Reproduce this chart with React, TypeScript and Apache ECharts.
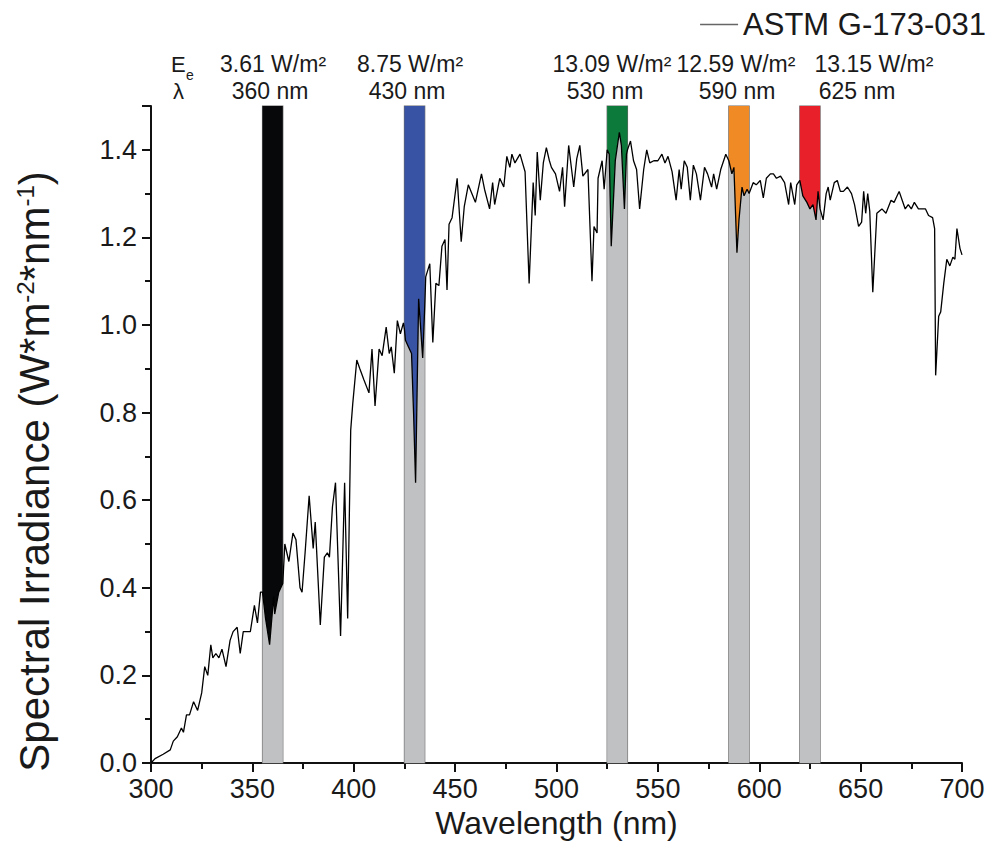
import React, { useEffect, useRef } from "react";
import * as echarts from "echarts";

// ---- Data ----
const wavelengths: number[] = [
  300, 302, 306, 309.5, 311, 313, 315, 316, 317.5, 319, 321, 323, 325, 326.5, 328, 329.5, 330.5, 332, 333.5, 335,
  337, 339, 340.5, 342.5, 344, 345.5, 347.5, 349, 351, 352.5, 354, 355, 356.5, 358.5, 360.5, 361, 363, 365, 366, 368,
  370, 371.5, 373.5, 374.5, 376, 378, 380, 381, 383.5, 385.5, 387, 388, 389.5, 391, 393.5, 395.5, 397, 398.5, 399.5, 401.5,
  403, 405, 407.5, 409, 410.5, 412.5, 414, 416, 417.5, 418.5, 420, 421.5, 423, 424.5, 425, 425.5, 427, 428.5, 429.5, 430.5,
  432, 434, 435, 435.5, 437.5, 439, 440.5, 442, 443.5, 445, 446, 447, 448.5, 451, 453, 454.5, 456.5, 460, 463, 464.5,
  467, 468.5, 469.5, 472, 474, 475.5, 477, 478, 479.5, 482, 484.5, 486.5, 488.5, 489.5, 490.5, 492, 493.5, 495, 496.5, 497.5,
  499.5, 501.5, 503, 504, 506, 508.5, 510, 511.5, 513, 515.5, 517.5, 518.5, 520, 520.5, 522.5, 523.5, 525, 526, 527, 529,
  531, 532, 533.5, 534.5, 535, 536.5, 538, 539.5, 541, 543, 544.5, 546, 548, 550, 552, 553.5, 555, 557, 559, 560.5,
  561.5, 563, 564.5, 566, 567.5, 569, 571, 573, 574.5, 576.5, 577.5, 579, 581, 583.5, 585, 586.5, 587.5, 589, 590, 591.5,
  592.5, 594, 595, 597, 598.5, 600.5, 602, 603.5, 605.5, 607, 608.5, 610.5, 612.5, 614.5, 615.5, 617.5, 618.5, 620, 621.5, 623.5,
  625, 626.5, 628, 629, 630, 631.5, 633, 634, 635, 637, 638.5, 640, 641.5, 643.5, 645.5, 647, 649, 650.5, 651.5, 652.5,
  653.5, 654.5, 656, 658, 660.5, 662.5, 665, 666.5, 668, 669, 670.5, 672, 673.5, 675, 676.5, 678.5, 680, 682, 683.5, 685.5,
  686.5, 687, 688.5, 689.5, 691, 692.5, 694, 695.5, 696.5, 697.5, 699, 700,
];
const irradiance: number[] = [
  0.0, 0.01, 0.02, 0.03, 0.05, 0.06, 0.08, 0.07, 0.11, 0.11, 0.14, 0.12, 0.16, 0.22, 0.2, 0.27, 0.24, 0.25, 0.24, 0.26,
  0.22, 0.28, 0.3, 0.31, 0.25, 0.3, 0.3, 0.3, 0.36, 0.32, 0.39, 0.39, 0.33, 0.27, 0.38, 0.34, 0.39, 0.41, 0.5, 0.46,
  0.525, 0.51, 0.4, 0.39, 0.48, 0.61, 0.49, 0.55, 0.315, 0.47, 0.48, 0.47, 0.585, 0.64, 0.29, 0.64, 0.33, 0.76, 0.82, 0.92,
  0.9, 0.875, 0.845, 0.945, 0.815, 0.945, 0.93, 0.995, 0.935, 0.95, 0.89, 1.01, 0.98, 1.005, 0.99, 0.965, 0.95, 0.935, 0.8, 0.64,
  1.06, 0.925, 1.04, 1.11, 1.14, 0.96, 1.095, 1.09, 1.18, 1.195, 1.08, 1.23, 1.245, 1.335, 1.19, 1.27, 1.32, 1.28, 1.345, 1.31,
  1.265, 1.325, 1.275, 1.335, 1.315, 1.385, 1.36, 1.39, 1.37, 1.39, 1.35, 1.095, 1.325, 1.25, 1.395, 1.285, 1.37, 1.405, 1.375, 1.36,
  1.345, 1.305, 1.36, 1.27, 1.41, 1.315, 1.38, 1.41, 1.34, 1.355, 1.1, 1.225, 1.21, 1.335, 1.375, 1.31, 1.4, 1.39, 1.18, 1.375,
  1.44, 1.41, 1.265, 1.39, 1.4, 1.42, 1.375, 1.355, 1.265, 1.355, 1.4, 1.37, 1.375, 1.375, 1.39, 1.37, 1.385, 1.35, 1.285, 1.355,
  1.31, 1.375, 1.36, 1.285, 1.365, 1.345, 1.285, 1.36, 1.345, 1.315, 1.345, 1.31, 1.355, 1.39, 1.375, 1.345, 1.36, 1.165, 1.24, 1.315,
  1.295, 1.31, 1.3, 1.325, 1.32, 1.33, 1.29, 1.335, 1.345, 1.345, 1.335, 1.34, 1.325, 1.275, 1.325, 1.275, 1.32, 1.33, 1.295, 1.28,
  1.265, 1.275, 1.24, 1.305, 1.265, 1.24, 1.3, 1.315, 1.285, 1.325, 1.33, 1.305, 1.305, 1.315, 1.3, 1.275, 1.225, 1.235, 1.305, 1.255,
  1.3, 1.26, 1.075, 1.255, 1.265, 1.255, 1.285, 1.28, 1.295, 1.305, 1.285, 1.265, 1.275, 1.265, 1.28, 1.265, 1.265, 1.265, 1.25, 1.245,
  1.22, 0.885, 1.02, 1.03, 1.095, 1.15, 1.135, 1.155, 1.15, 1.22, 1.175, 1.16,
];

const seriesName = "ASTM G-173-031";
const bandLow: number[] = [355, 425, 525, 585, 620];
const bandHigh: number[] = [365, 435, 535, 595, 630];
const bandPeakLabels: string[] = ["360 nm", "430 nm", "530 nm", "590 nm", "625 nm"];
const bandIrradianceLabels: string[] = ["3.61 W/m²", "8.75 W/m²", "13.09 W/m²", "12.59 W/m²", "13.15 W/m²"];
const xTickMin = 300;
const xTickMax = 700;
const yMin = 0;
const yMax = 1.5;

// ---- Styles / layout ----
const bandColors = ["#060809", "#3953a4", "#0c7a3a", "#f08a24", "#e8202a"];
const grayFill = "#c0c1c3";
const bandBorder = "#6b6b6b";
const sans = "'Liberation Sans', Arial, Helvetica, sans-serif";
const row1Centers = [273, 410, 612, 736, 874];
const row2Centers = [270, 407, 605, 737, 857];

export default function App() {
  const ref = useRef<HTMLDivElement>(null);
  useEffect(() => {
    if (!ref.current) return;
    const chart = echarts.init(ref.current, undefined, { renderer: "svg" });
    const spectrum = wavelengths.map((w, i) => [w, irradiance[i]]);

    const bandSeries: any[] = [];
    bandLow.forEach((lo, b) => {
      const hi = bandHigh[b];
      const pts = spectrum.filter((p) => p[0] >= lo && p[0] <= hi);
      bandSeries.push({
        type: "line",
        name: "band-gray-" + b,
        data: pts,
        symbol: "none",
        silent: true,
        z: 1,
        lineStyle: { width: 0, opacity: 0 },
        areaStyle: { color: grayFill, opacity: 1, origin: "start" },
        markArea: {
          silent: true,
          itemStyle: { color: "rgba(0,0,0,0)", borderColor: bandBorder, borderWidth: 1.2 },
          data: [[{ xAxis: lo }, { xAxis: hi }]],
        },
      });
      bandSeries.push({
        type: "line",
        name: "band-color-" + b,
        data: pts,
        symbol: "none",
        silent: true,
        z: 1,
        lineStyle: { width: 0, opacity: 0 },
        areaStyle: { color: bandColors[b], opacity: 1, origin: "end" },
      });
    });

    const graphics: any[] = [
      { type: "text", left: 171, top: 53, style: { text: "E", font: `22px ${sans}`, fill: "#1a1a1a" } },
      { type: "text", left: 186, top: 68, style: { text: "e", font: `14px ${sans}`, fill: "#1a1a1a" } },
      { type: "text", left: 173, top: 80, style: { text: "λ", font: `22px ${sans}`, fill: "#1a1a1a" } },
    ];
    bandIrradianceLabels.forEach((t, i) => {
      graphics.push({
        type: "text",
        x: row1Centers[i],
        y: 64,
        style: { text: t, font: `23px ${sans}`, fill: "#1a1a1a", textAlign: "center", textVerticalAlign: "middle" },
      });
    });
    bandPeakLabels.forEach((t, i) => {
      graphics.push({
        type: "text",
        x: row2Centers[i],
        y: 91,
        style: { text: t, font: `23px ${sans}`, fill: "#1a1a1a", textAlign: "center", textVerticalAlign: "middle" },
      });
    });

    chart.setOption({
      animation: false,
      backgroundColor: "#ffffff",
      legend: {
        data: [{ name: seriesName, icon: "rect" }],
        right: 0,
        top: 4,
        itemWidth: 38,
        itemHeight: 1.5,
        itemGap: 6,
        itemStyle: { color: "#666" },
        textStyle: { fontSize: 31, fontFamily: sans, color: "#1a1a1a" },
      },
      grid: { left: 151, right: 29, top: 106, bottom: 98 },
      xAxis: {
        type: "value",
        min: xTickMin,
        max: xTickMax,
        interval: 50,
        name: "Wavelength (nm)",
        nameLocation: "middle",
        nameGap: 40,
        nameTextStyle: { fontSize: 32, fontFamily: sans, color: "#1a1a1a" },
        axisLine: { show: true, lineStyle: { color: "#111", width: 2 } },
        axisTick: { show: true, inside: false, length: 9, lineStyle: { color: "#111", width: 2 } },
        minorTick: { show: true, splitNumber: 2, length: 6, lineStyle: { color: "#111", width: 2 } },
        axisLabel: { fontSize: 27, fontFamily: sans, color: "#1a1a1a", margin: 12 },
        splitLine: { show: false },
      },
      yAxis: {
        type: "value",
        min: yMin,
        max: yMax,
        interval: 0.2,
        name: "{a|Spectral Irradiance (W*m}{s|-2}{a|*nm}{s|-1}{a|)}",
        nameLocation: "middle",
        nameGap: 96,
        nameRotate: 90,
        nameTextStyle: {
          padding: [0, 74, 0, 0],
          rich: {
            a: { fontSize: 42, fontFamily: sans, color: "#1a1a1a" },
            s: { fontSize: 24, fontFamily: sans, color: "#1a1a1a", verticalAlign: "top", padding: [0, 0, 16, 0] },
          },
        },
        axisLine: { show: true, lineStyle: { color: "#111", width: 2 } },
        axisTick: { show: true, inside: false, length: 9, lineStyle: { color: "#111", width: 2 } },
        minorTick: { show: true, splitNumber: 2, length: 6, lineStyle: { color: "#111", width: 2 } },
        axisLabel: {
          fontSize: 27,
          fontFamily: sans,
          color: "#1a1a1a",
          margin: 14,
          showMaxLabel: false,
          formatter: (v: number) => v.toFixed(1),
        },
        splitLine: { show: false },
      },
      graphic: graphics,
      series: [
        ...bandSeries,
        {
          type: "line",
          name: seriesName,
          data: spectrum,
          symbol: "none",
          z: 5,
          color: "#000",
          lineStyle: { color: "#000", width: 1.3 },
        },
      ],
    });
    return () => chart.dispose();
  }, []);
  return (
    <div
      ref={ref}
      style={{ position: "absolute", left: 0, top: 0, width: 991, height: 861, background: "#fff" }}
    />
  );
}
